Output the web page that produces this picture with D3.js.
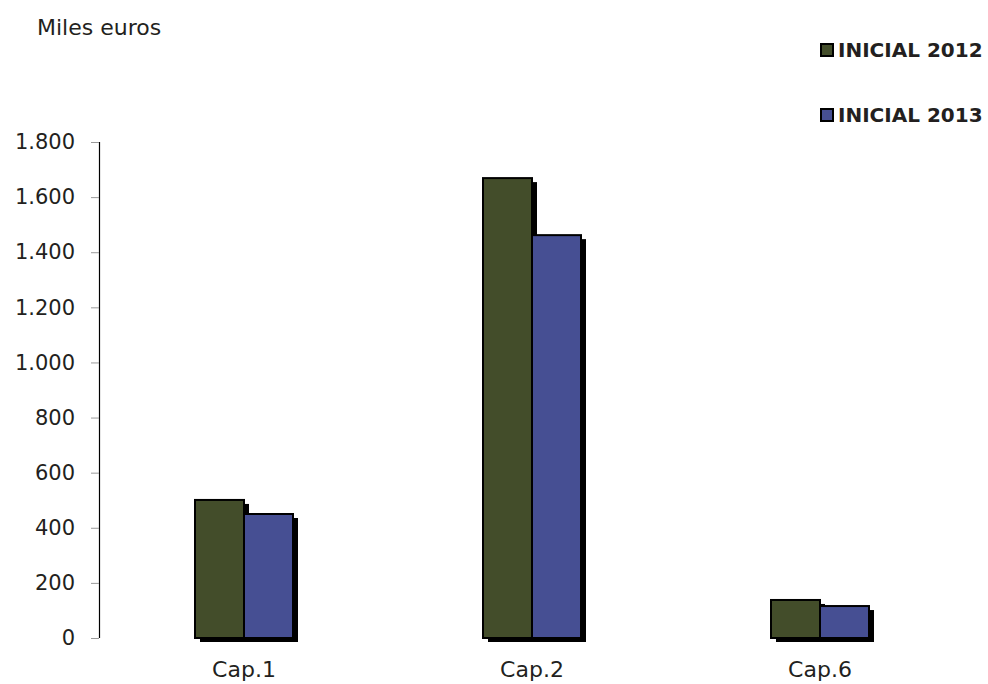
<!DOCTYPE html>
<html><head><meta charset="utf-8">
<script src="https://cdn.jsdelivr.net/npm/d3@7"></script>
<style>body{margin:0;background:#fff}svg{display:block}text{font-family:"DejaVu Sans",sans-serif;fill:#231f20}</style>
</head><body><svg id="c" width="988" height="684"></svg>
<script>
const categories = ["Cap.1", "Cap.2", "Cap.6"];
const seriesNames = ["INICIAL 2012", "INICIAL 2013"];
const values2012 = [501, 1669, 138];
const values2013 = [450, 1462, 116];
const yTicks = [0, 200, 400, 600, 800, 1000, 1200, 1400, 1600, 1800];
const colors = ["#434d2a", "#464f93"];

const svg = d3.select("#c");
const x = d3.scaleBand().domain(categories).range([100, 964]);
const y = d3.scaleLinear().domain([0, 1800]).range([638, 142]);
const fmt = v => d3.format(",")(v).replace(/,/g, ".");

// y axis
const ya = svg.append("g").attr("transform", "translate(99,0)")
  .call(d3.axisLeft(y).tickValues(yTicks).tickSize(8).tickPadding(16).tickFormat(fmt));
ya.select(".domain").attr("stroke", "#000").attr("stroke-width", 1.2).attr("d", `M0.5,${y(1800)}V${y(0)}`);
ya.selectAll(".tick line").attr("stroke", "#999");
ya.selectAll(".tick text").style("font-size", "21px").attr("fill", "#231f20").style("font-family", '"DejaVu Sans",sans-serif');

const series = [values2012, values2013];
const bw = 49;
const off = [-bw, 0];
const shadow = 5;
// shadows
series.forEach((vals, si) => {
  svg.append("g").selectAll("rect").data(categories).join("rect")
    .attr("x", (c) => x(c) + x.bandwidth() / 2 + off[si] + shadow)
    .attr("y", (c, i) => y(vals[i]) + shadow - 1)
    .attr("width", bw)
    .attr("height", (c, i) => y(0) - y(vals[i]))
    .attr("fill", "#000");
});
series.forEach((vals, si) => {
  svg.append("g").selectAll("rect").data(categories).join("rect")
    .attr("x", (c) => x(c) + x.bandwidth() / 2 + off[si])
    .attr("y", (c, i) => y(vals[i]))
    .attr("width", bw)
    .attr("height", (c, i) => y(0) - y(vals[i]))
    .attr("fill", colors[si]).attr("stroke", "#000").attr("stroke-width", 2);
});

// x labels
svg.append("g").selectAll("text").data(categories).join("text")
  .attr("x", c => x(c) + x.bandwidth() / 2).attr("y", 677)
  .attr("text-anchor", "middle").style("font-size", "22px").text(c => c);

// title
svg.append("text").attr("x", 37).attr("y", 35).style("font-size", "22px").text("Miles euros");

// legend
seriesNames.forEach((n, i) => {
  const ly = 57 + i * 65;
  svg.append("rect").attr("x", 821).attr("y", ly - 13).attr("width", 12).attr("height", 12)
    .attr("fill", colors[i]).attr("stroke", "#000").attr("stroke-width", 2);
  svg.append("text").attr("x", 838).attr("y", ly).style("font-size", "20px").style("font-weight", "bold").text(n);
});
</script></body></html>
